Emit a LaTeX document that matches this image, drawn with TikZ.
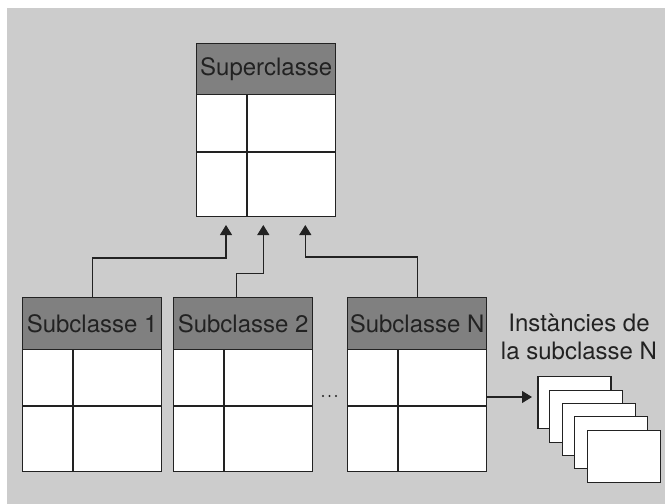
\documentclass[tikz,border=0pt]{standalone}
\usepackage{fontspec}
\setmainfont{TeX Gyre Heros}
\usetikzlibrary{arrows.meta,calc}
\definecolor{bggray}{HTML}{CCCCCC}
\definecolor{headgray}{HTML}{808080}
\definecolor{ink}{HTML}{222222}

\begin{document}
\begin{tikzpicture}[x=1pt,y=-1pt,
  labelfont/.style={font=\fontsize{24}{28}\selectfont, text=ink},
  head/.style={draw=ink, line width=1.3pt, fill=headgray, minimum width=139pt,
    minimum height=52pt, inner sep=0pt, anchor=north west, labelfont},
  body/.style={draw=ink, line width=1.3pt, fill=white, minimum width=139pt,
    minimum height=122pt, inner sep=0pt, anchor=north west},
  grid/.style={draw=ink, line width=1.3pt},
  conn/.style={draw=ink, line width=1.1pt, -{Triangle[width=12pt,length=10pt]}},
  inst/.style={draw=ink, line width=1.3pt, fill=white, minimum width=73pt,
    minimum height=52pt, inner sep=0pt, anchor=north west}]

  % canvas and backdrop
  \useasboundingbox (0,0) rectangle (665,504);
  \fill[white] (0,0) rectangle (665,504);
  \fill[bggray] (7,8) rectangle (665,504);

  % superclass
  \node[head, minimum height=51pt] (sup-h) at (196,43) {Superclasse};
  \node[body] (sup) at (196,94) {};
  \draw[grid] ($(sup.north west)+(51,0)$) -- ($(sup.south west)+(51,0)$);
  \draw[grid] ($(sup.north west)+(0,58)$) -- ($(sup.north east)+(0,58)$);

  % subclasses
  \foreach \n/\x/\t in {s1/22/Subclasse 1, s2/173/Subclasse 2, sN/347/Subclasse N}{
    \node[head] (\n-h) at (\x,297) {\t};
    \node[body] (\n) at (\x,349) {};
    \draw[grid] ($(\n.north west)+(51,0)$) -- ($(\n.south west)+(51,0)$);
    \draw[grid] ($(\n.north west)+(0,57)$) -- ($(\n.north east)+(0,57)$);
  }

  % ellipsis between subclasses
  \foreach \dx in {-6.5,0,6.5}
    \fill[ink] (329.5+\dx,396) circle (1.1pt);

  % inheritance connectors
  \coordinate (tip1) at (226,225);
  \coordinate (tip2) at (263.3,225);
  \coordinate (tip3) at (305.3,225);
  \draw[conn] (s1-h.north) -- ++(0,-39) -| (tip1);
  \draw[conn] ([xshift=-6.8pt]s2-h.north) -- ++(0,-23.5) -| (tip2);
  \draw[conn] (sN-h.north) -- ++(0,-40) -| (tip3);

  % instances of subclass N
  \foreach \i/\x/\y in {1/537.3/376, 2/549/389.5, 3/561.5/403, 4/573.5/416, 5/587/430}
    \node[inst] (inst\i) at (\x,\y) {};
  \node[labelfont, align=center] (instlabel) at (579,337) {Instàncies de\\la subclasse N};

  \coordinate (instin) at (532,397);
  \draw[conn] (sN.east |- instin) -- (instin);
\end{tikzpicture}
\end{document}
